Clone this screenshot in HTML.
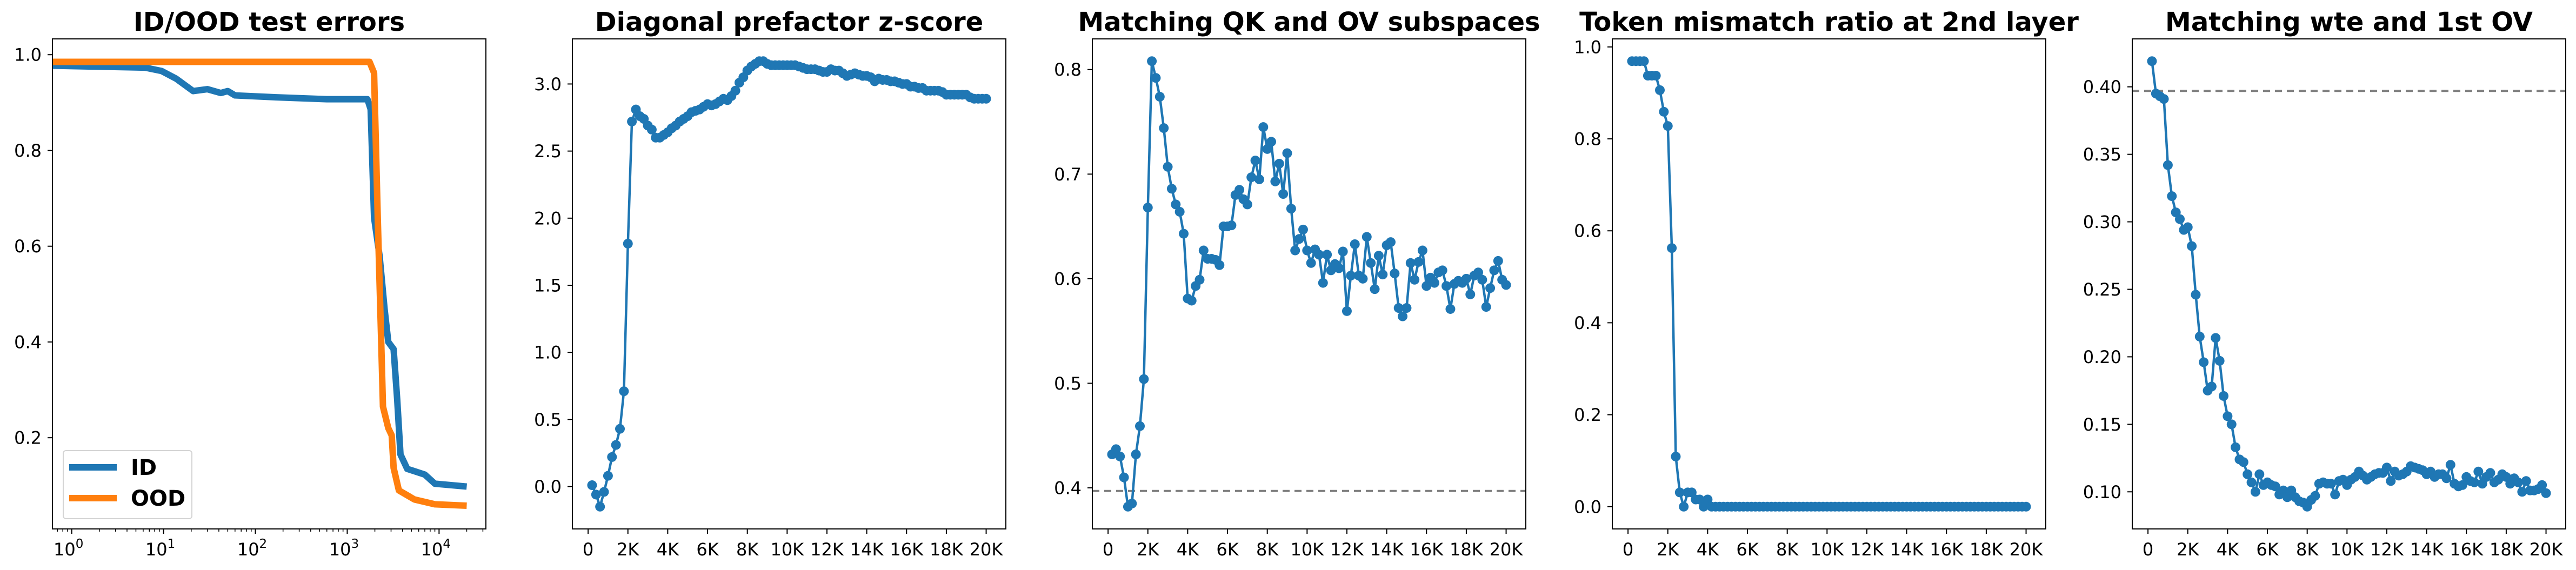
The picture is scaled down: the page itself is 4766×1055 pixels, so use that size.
<!DOCTYPE html>
<html><head><meta charset="utf-8">
<style>
html,body{margin:0;padding:0;background:#fff;}
svg{display:block;}
text{font-family:"DejaVu Sans","Liberation Sans",sans-serif;fill:#000;}
</style></head>
<body>
<svg id="fig" xmlns="http://www.w3.org/2000/svg" width="4766" height="1055" viewBox="0 0 4766 1055"></svg>
<script>
// ---------- data ----------
const idSteps = [0.62, 6.3, 9.5, 13.7, 21, 30, 42, 50, 60, 170, 600, 1660, 1800, 1960, 2250, 2550, 2800, 3200, 3500, 3800, 4500, 7000, 9000, 20000];
const idErr   = [0.977, 0.973, 0.966, 0.95, 0.924, 0.928, 0.92, 0.924, 0.915, 0.911, 0.907, 0.907, 0.886, 0.66, 0.58, 0.469, 0.40, 0.385, 0.28, 0.165, 0.135, 0.123, 0.104, 0.098];
const oodSteps = [0.62, 100, 1750, 1960, 2150, 2350, 2450, 2800, 3050, 3200, 3650, 5400, 9000, 20000];
const oodErr   = [0.985, 0.985, 0.985, 0.962, 0.658, 0.393, 0.265, 0.22, 0.205, 0.137, 0.09, 0.071, 0.061, 0.058];

const zscore = [0.01,-0.06,-0.15,-0.04,0.08,0.22,0.31,0.43,0.71,1.81,2.72,2.81,2.76,2.74,2.69,2.66,2.60,2.60,2.62,2.64,
 2.67,2.69,2.72,2.74,2.76,2.79,2.80,2.81,2.83,2.85,2.84,2.85,2.87,2.89,2.88,2.91,2.95,3.01,3.05,3.10,
 3.13,3.15,3.17,3.17,3.15,3.14,3.14,3.14,3.14,3.14,3.14,3.14,3.13,3.12,3.11,3.11,3.11,3.10,3.09,3.09,
 3.11,3.10,3.10,3.08,3.06,3.07,3.08,3.07,3.06,3.06,3.05,3.02,3.04,3.03,3.03,3.02,3.02,3.01,3.00,3.00,
 2.98,2.98,2.97,2.97,2.95,2.95,2.95,2.95,2.94,2.92,2.92,2.92,2.92,2.92,2.92,2.90,2.89,2.89,2.89,2.89];
const qkov = [0.432,0.437,0.430,0.410,0.382,0.385,0.432,0.459,0.504,0.668,0.808,0.792,0.774,0.744,0.707,0.686,0.671,0.664,0.643,0.581,
 0.579,0.593,0.599,0.627,0.619,0.619,0.618,0.613,0.650,0.650,0.651,0.680,0.685,0.676,0.671,0.697,0.713,0.695,0.745,0.724,
 0.731,0.693,0.710,0.681,0.720,0.667,0.627,0.638,0.647,0.627,0.615,0.628,0.623,0.596,0.623,0.608,0.614,0.610,0.626,0.569,
 0.603,0.633,0.603,0.600,0.640,0.615,0.590,0.622,0.604,0.632,0.635,0.605,0.572,0.564,0.572,0.615,0.599,0.616,0.627,0.593,
 0.601,0.596,0.606,0.608,0.593,0.571,0.595,0.598,0.596,0.600,0.585,0.603,0.606,0.599,0.573,0.591,0.608,0.617,0.599,0.594];
const mismatch = [0.969,0.969,0.969,0.969,0.9375,0.9375,0.9375,0.906,0.859,0.828,0.5625,0.109,0.031,0,0.031,0.031,0.0156,0.0156,0,0.0156,
 0,0,0,0,0,0,0,0,0,0,0,0,0,0,0,0,0,0,0,0,0,0,0,0,0,0,0,0,0,0,0,0,0,0,0,0,0,0,0,0,
 0,0,0,0,0,0,0,0,0,0,0,0,0,0,0,0,0,0,0,0,0,0,0,0,0,0,0,0,0,0,0,0,0,0,0,0,0,0,0,0];
const wteov = [0.419,0.395,0.393,0.391,0.342,0.319,0.307,0.302,0.294,0.296,0.282,0.246,0.215,0.196,0.175,0.178,0.214,0.197,0.171,0.156,
 0.150,0.133,0.124,0.122,0.113,0.107,0.100,0.113,0.105,0.107,0.105,0.104,0.098,0.101,0.096,0.101,0.096,0.093,0.092,0.089,
 0.094,0.097,0.106,0.107,0.106,0.106,0.098,0.108,0.109,0.105,0.109,0.111,0.115,0.112,0.109,0.111,0.113,0.114,0.114,0.118,
 0.108,0.115,0.112,0.113,0.115,0.119,0.118,0.117,0.116,0.113,0.115,0.111,0.113,0.113,0.110,0.120,0.106,0.104,0.105,0.111,
 0.108,0.107,0.115,0.106,0.111,0.114,0.107,0.109,0.113,0.111,0.106,0.110,0.107,0.100,0.108,0.101,0.101,0.102,0.105,0.099];
const baseline = 0.397;
const kTicks = [0,2000,4000,6000,8000,10000,12000,14000,16000,18000,20000];
const kLabels = ["0","2K","4K","6K","8K","10K","12K","14K","16K","18K","20K"];
const titles = ["ID/OOD test errors","Diagonal prefactor z-score","Matching QK and OV subspaces","Token mismatch ratio at 2nd layer","Matching wte and 1st OV"];

// ---------- layout ----------
const NS = "http://www.w3.org/2000/svg";
const svg = document.getElementById("fig");
const AX_L = [97,1059,2021,2983,3945], AX_W = 802, AX_T = 72, AX_B = 979;
const BLUE = "#1f77b4", ORANGE = "#ff7f0e";
function mk(tag, attrs, parent){ const e=document.createElementNS(NS,tag); for(const k in attrs) e.setAttribute(k,attrs[k]); (parent||svg).appendChild(e); return e; }
function steps(n){ const s=[]; for(let i=1;i<=n;i++) s.push(i*200); return s; }

function frame(i){
  const g = mk("g",{});
  
  
  const t = mk("text",{x:AX_L[i]+AX_W/2,y:57,"text-anchor":"middle","font-size":48,"font-weight":"bold"},g);
  t.textContent = titles[i];
  
  
  return g;
}
function spines(g,i){
  const r = mk("rect",{x:AX_L[i],y:AX_T,width:AX_W,height:AX_B-AX_T,fill:"none",stroke:"#000","stroke-width":2},g);
  
  
}
function yTicks(g,i,ticks,fmt,ys){
  ticks.forEach(v=>{
    const y = ys(v);
    const l = mk("line",{x1:AX_L[i]-9,x2:AX_L[i],y1:y,y2:y,stroke:"#000","stroke-width":2},g);
    
    
    const t = mk("text",{x:AX_L[i]-20,y:y+11.5,"text-anchor":"end","font-size":32},g);
    t.textContent = fmt(v);
    
    
  });
}
function linearX(i){ const lo=-790, hi=20990; return v => AX_L[i] + (v-lo)/(hi-lo)*AX_W; }
function autoY(vals,extra){ let mn=Math.min(...vals), mx=Math.max(...vals); if(extra!==undefined){mn=Math.min(mn,extra);mx=Math.max(mx,extra);} const m=(mx-mn)*0.05; const lo=mn-m, hi=mx+m; return v => AX_B - (v-lo)/(hi-lo)*(AX_B-AX_T); }

// ---------- panel 1 (log x) ----------
(function(){
  const i=0, g=frame(i);
  const lo=-0.21, hi=4.51;
  const xs = v => AX_L[i] + (Math.log10(v)-lo)/(hi-lo)*AX_W;
  const ylo=0.0095, yhi=1.033;
  const ys = v => AX_B - (v-ylo)/(yhi-ylo)*(AX_B-AX_T);
  const idLine = mk("polyline",{points:idSteps.map((s,k)=>xs(s)+","+ys(idErr[k])).join(" "),fill:"none",stroke:BLUE,"stroke-width":12,"stroke-linejoin":"round"},g);
  
  
  const oodLine = mk("polyline",{points:oodSteps.map((s,k)=>xs(s)+","+ys(oodErr[k])).join(" "),fill:"none",stroke:ORANGE,"stroke-width":12,"stroke-linejoin":"round"},g);
  
  
  spines(g,i);
  yTicks(g,i,[0.2,0.4,0.6,0.8,1.0],v=>v.toFixed(1),ys);
  for(let d=-1; d<=4; d++){
    for(let m=1;m<10;m++){
      const v=m*Math.pow(10,d), x=xs(v);
      if(x<AX_L[i]||x>AX_L[i]+AX_W) continue;
      const mt = mk("line",{x1:x,x2:x,y1:AX_B,y2:AX_B+(m===1?9:5),stroke:"#000","stroke-width":m===1?2:1.5},g);
      
      
      if(m===1 && d>=0){
        const t = mk("text",{x:x-6,y:1028,"text-anchor":"middle","font-size":32},g);
        
        
        const a = mk("tspan",{},t); a.textContent="10";
        const b = mk("tspan",{dy:-14,"font-size":23},t); b.textContent=String(d);
      }
    }
  }
  const leg = mk("g",{},g);
  
  
  const box = mk("rect",{x:117,y:834,width:238,height:126,rx:5,fill:"#fff","fill-opacity":0.8,stroke:"#d4d4d4","stroke-width":2},leg);
  
  
  [["ID",BLUE,865],["OOD",ORANGE,922]].forEach(e=>{
    const ln = mk("line",{x1:128,x2:216,y1:e[2],y2:e[2],stroke:e[1],"stroke-width":12},leg);
    
    
    const tx = mk("text",{x:242,y:e[2]+14,"font-size":40,"font-weight":"bold"},leg);
    tx.textContent = e[0];
    
    
  });
})();

// ---------- panels 2-5 ----------
function markerPanel(i, vals, yt, fmt, dashed){
  const g=frame(i), xs=linearX(i), ys=autoY(vals, dashed);
  const st=steps(vals.length);
  if(dashed!==undefined){
    const d = mk("line",{x1:AX_L[i],x2:AX_L[i]+AX_W,y1:ys(dashed),y2:ys(dashed),stroke:"#808080","stroke-width":4,"stroke-dasharray":"13 9"},g);
    
    
  }
  const pl = mk("polyline",{points:st.map((s,k)=>xs(s)+","+ys(vals[k])).join(" "),fill:"none",stroke:BLUE,"stroke-width":4.5,"stroke-linejoin":"round"},g);
  
  
  st.forEach((s,k)=>{
    const c = mk("circle",{cx:xs(s),cy:ys(vals[k]),r:9,fill:BLUE},g);
    
    
  });
  spines(g,i);
  yTicks(g,i,yt,fmt,ys);
  kTicks.forEach((v,k)=>{
    const x=xs(v);
    const l = mk("line",{x1:x,x2:x,y1:AX_B,y2:AX_B+9,stroke:"#000","stroke-width":2},g);
    
    
    const t = mk("text",{x:x,y:1028,"text-anchor":"middle","font-size":32},g);
    t.textContent = kLabels[k];
    
    
  });
}
markerPanel(1, zscore, [0,0.5,1,1.5,2,2.5,3], v=>v.toFixed(1));
markerPanel(2, qkov, [0.4,0.5,0.6,0.7,0.8], v=>v.toFixed(1), baseline);
markerPanel(3, mismatch, [0,0.2,0.4,0.6,0.8,1.0], v=>v.toFixed(1));
markerPanel(4, wteov, [0.10,0.15,0.20,0.25,0.30,0.35,0.40], v=>v.toFixed(2), baseline);
</script>
</body></html>
